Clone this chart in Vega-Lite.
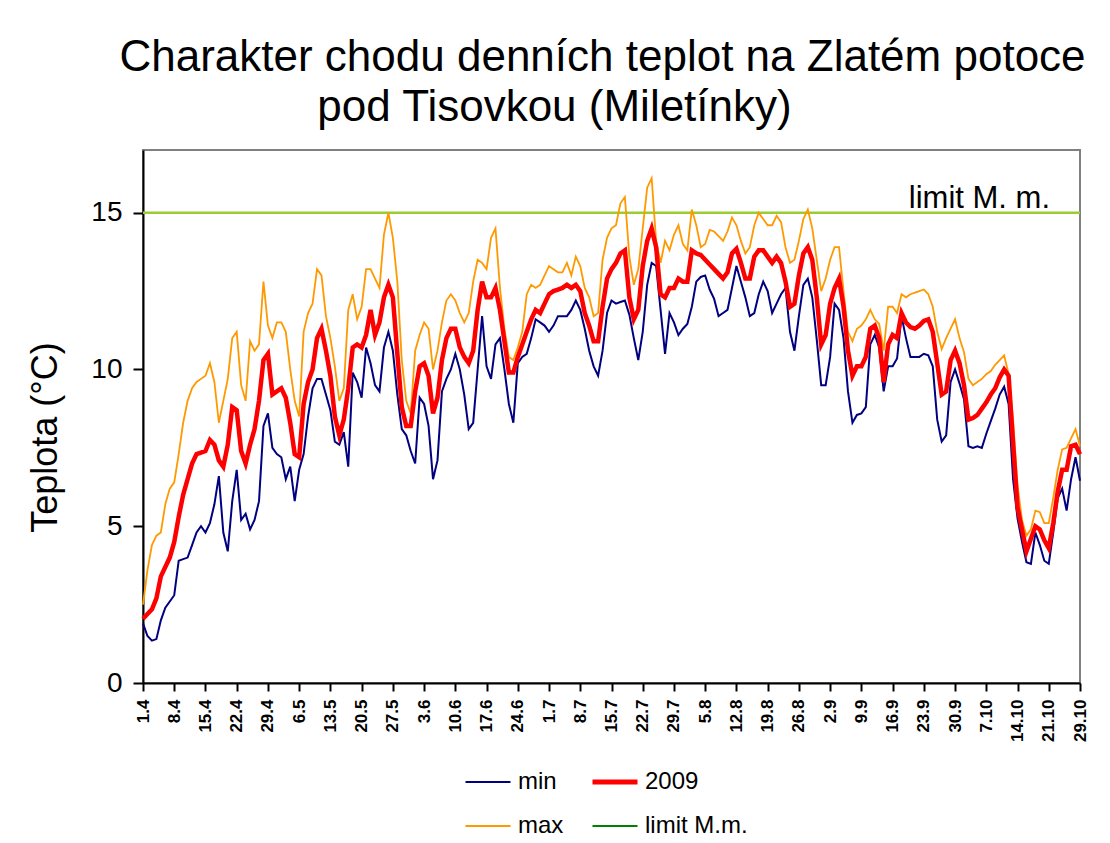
{
  "$schema": "https://vega.github.io/schema/vega-lite/v6.json",
  "autosize": {"type": "none"},
  "width": 937,
  "height": 533,
  "padding": {"left": 143, "top": 150, "right": 30, "bottom": 160},
  "background": "white",
  "config": {"font": "Liberation Sans", "view": {"stroke": "#808080", "strokeWidth": 2}},
  "title": {
    "text": ["Charakter chodu denních teplot na Zlatém potoce", "pod Tisovkou (Miletínky)\u2800\u2800\u2800"],
    "fontSize": 44, "fontWeight": "normal", "color": "black", "anchor": "middle", "frame": "group",
    "dx": -9, "offset": 20, "lineHeight": 50
  },
  "data": {"values": [
    {"d":"1.4","min":1.9,"mean":2.05,"max":2.5},{"d":"2.4","min":1.5,"mean":2.2,"max":3.6},{"d":"3.4","min":1.35,"mean":2.35,"max":4.4},{"d":"4.4","min":1.4,"mean":2.7,"max":4.7},{"d":"5.4","min":2.0,"mean":3.4,"max":4.8},{"d":"6.4","min":2.4,"mean":3.7,"max":5.7},{"d":"7.4","min":2.6,"mean":4.0,"max":6.2},{"d":"8.4","min":2.8,"mean":4.5,"max":6.4},{"d":"9.4","min":3.9,"mean":5.3,"max":7.3},{"d":"10.4","min":3.95,"mean":6.0,"max":8.3},
    {"d":"11.4","min":4.0,"mean":6.5,"max":9.0},{"d":"12.4","min":4.4,"mean":7.0,"max":9.4},{"d":"13.4","min":4.8,"mean":7.3,"max":9.6},{"d":"14.4","min":5.0,"mean":7.35,"max":9.7},{"d":"15.4","min":4.8,"mean":7.4,"max":9.8},{"d":"16.4","min":5.1,"mean":7.75,"max":10.2},{"d":"17.4","min":5.7,"mean":7.6,"max":9.6},{"d":"18.4","min":6.6,"mean":7.1,"max":8.3},{"d":"19.4","min":4.8,"mean":6.9,"max":9.0},{"d":"20.4","min":4.2,"mean":7.6,"max":9.7},
    {"d":"21.4","min":5.8,"mean":8.8,"max":11.0},{"d":"22.4","min":6.8,"mean":8.7,"max":11.2},{"d":"23.4","min":5.2,"mean":7.4,"max":9.5},{"d":"24.4","min":5.4,"mean":7.0,"max":9.0},{"d":"25.4","min":4.9,"mean":7.6,"max":10.9},{"d":"26.4","min":5.2,"mean":8.1,"max":10.6},{"d":"27.4","min":5.8,"mean":9.0,"max":10.8},{"d":"28.4","min":8.2,"mean":10.3,"max":12.8},{"d":"29.4","min":8.6,"mean":10.5,"max":11.4},{"d":"30.4","min":7.5,"mean":9.2,"max":11.0},
    {"d":"1.5","min":7.3,"mean":9.3,"max":11.5},{"d":"2.5","min":7.2,"mean":9.4,"max":11.5},{"d":"3.5","min":6.5,"mean":9.1,"max":11.2},{"d":"4.5","min":6.9,"mean":8.3,"max":10.0},{"d":"5.5","min":5.8,"mean":7.3,"max":9.0},{"d":"6.5","min":6.8,"mean":7.2,"max":8.5},{"d":"7.5","min":7.3,"mean":8.9,"max":11.2},{"d":"8.5","min":8.5,"mean":9.6,"max":11.8},{"d":"9.5","min":9.4,"mean":10.0,"max":12.1},{"d":"10.5","min":9.7,"mean":11.0,"max":13.2},
    {"d":"11.5","min":9.7,"mean":11.3,"max":13.0},{"d":"12.5","min":9.2,"mean":10.6,"max":11.7},{"d":"13.5","min":8.7,"mean":9.8,"max":11.0},{"d":"14.5","min":7.7,"mean":8.5,"max":10.1},{"d":"15.5","min":7.6,"mean":7.9,"max":9.0},{"d":"16.5","min":8.0,"mean":8.4,"max":9.4},{"d":"17.5","min":6.9,"mean":9.4,"max":11.9},{"d":"18.5","min":9.9,"mean":10.7,"max":12.4},{"d":"19.5","min":9.6,"mean":10.8,"max":11.6},{"d":"20.5","min":9.1,"mean":10.7,"max":12.0},
    {"d":"21.5","min":10.7,"mean":11.1,"max":13.2},{"d":"22.5","min":10.2,"mean":11.9,"max":13.2},{"d":"23.5","min":9.5,"mean":11.1,"max":12.9},{"d":"24.5","min":9.3,"mean":11.5,"max":12.6},{"d":"25.5","min":10.7,"mean":12.3,"max":14.3},{"d":"26.5","min":11.2,"mean":12.7,"max":15.0},{"d":"27.5","min":10.6,"mean":12.3,"max":14.2},{"d":"28.5","min":9.2,"mean":10.5,"max":12.8},{"d":"29.5","min":8.1,"mean":8.8,"max":10.3},{"d":"30.5","min":7.9,"mean":8.2,"max":9.0},
    {"d":"31.5","min":7.4,"mean":8.2,"max":8.6},{"d":"1.6","min":7.0,"mean":9.3,"max":10.6},{"d":"2.6","min":9.1,"mean":10.1,"max":11.1},{"d":"3.6","min":8.9,"mean":10.2,"max":11.5},{"d":"4.6","min":8.2,"mean":9.8,"max":11.3},{"d":"5.6","min":6.5,"mean":8.6,"max":10.0},{"d":"6.6","min":7.1,"mean":9.1,"max":10.6},{"d":"7.6","min":9.3,"mean":10.3,"max":11.5},{"d":"8.6","min":9.7,"mean":11.0,"max":12.2},{"d":"9.6","min":10.0,"mean":11.3,"max":12.4},
    {"d":"10.6","min":10.5,"mean":11.3,"max":12.2},{"d":"11.6","min":10.0,"mean":10.7,"max":11.8},{"d":"12.6","min":9.2,"mean":10.4,"max":11.5},{"d":"13.6","min":8.1,"mean":10.2,"max":11.8},{"d":"14.6","min":8.3,"mean":10.6,"max":12.8},{"d":"15.6","min":10.0,"mean":11.9,"max":13.5},{"d":"16.6","min":11.7,"mean":12.8,"max":13.4},{"d":"17.6","min":10.1,"mean":12.3,"max":13.2},{"d":"18.6","min":9.7,"mean":12.3,"max":14.2},{"d":"19.6","min":10.8,"mean":12.6,"max":14.5},
    {"d":"20.6","min":11.0,"mean":11.9,"max":12.6},{"d":"21.6","min":10.0,"mean":10.9,"max":11.3},{"d":"22.6","min":8.9,"mean":9.9,"max":10.4},{"d":"23.6","min":8.3,"mean":9.9,"max":10.3},{"d":"24.6","min":10.2,"mean":10.4,"max":10.7},{"d":"25.6","min":10.4,"mean":10.8,"max":11.2},{"d":"26.6","min":10.5,"mean":11.2,"max":12.4},{"d":"27.6","min":11.0,"mean":11.6,"max":12.7},{"d":"28.6","min":11.6,"mean":11.9,"max":12.6},{"d":"29.6","min":11.5,"mean":11.8,"max":12.7},
    {"d":"30.6","min":11.4,"mean":12.1,"max":13.0},{"d":"1.7","min":11.2,"mean":12.4,"max":13.3},{"d":"2.7","min":11.4,"mean":12.5,"max":13.2},{"d":"3.7","min":11.7,"mean":12.55,"max":13.1},{"d":"4.7","min":11.7,"mean":12.6,"max":13.1},{"d":"5.7","min":11.7,"mean":12.7,"max":13.4},{"d":"6.7","min":11.9,"mean":12.6,"max":13.0},{"d":"7.7","min":12.2,"mean":12.7,"max":13.6},{"d":"8.7","min":11.9,"mean":12.5,"max":13.3},{"d":"9.7","min":11.3,"mean":11.8,"max":12.6},
    {"d":"10.7","min":10.6,"mean":11.4,"max":12.3},{"d":"11.7","min":10.1,"mean":10.9,"max":11.7},{"d":"12.7","min":9.8,"mean":10.9,"max":11.8},{"d":"13.7","min":10.6,"mean":12.0,"max":13.5},{"d":"14.7","min":11.8,"mean":12.9,"max":14.2},{"d":"15.7","min":12.2,"mean":13.2,"max":14.5},{"d":"16.7","min":12.1,"mean":13.4,"max":14.6},{"d":"17.7","min":12.15,"mean":13.7,"max":15.3},{"d":"18.7","min":12.2,"mean":13.8,"max":15.5},{"d":"19.7","min":11.75,"mean":12.3,"max":13.6},
    {"d":"20.7","min":11.0,"mean":11.6,"max":12.7},{"d":"21.7","min":10.3,"mean":11.9,"max":13.2},{"d":"22.7","min":11.2,"mean":13.3,"max":14.5},{"d":"23.7","min":12.7,"mean":14.1,"max":15.8},{"d":"24.7","min":13.4,"mean":14.5,"max":16.1},{"d":"25.7","min":13.3,"mean":13.9,"max":14.1},{"d":"26.7","min":11.9,"mean":12.4,"max":13.4},{"d":"27.7","min":10.5,"mean":12.3,"max":14.1},{"d":"28.7","min":11.8,"mean":12.6,"max":13.8},{"d":"29.7","min":11.5,"mean":12.6,"max":14.3},
    {"d":"30.7","min":11.1,"mean":12.9,"max":14.6},{"d":"31.7","min":11.3,"mean":12.8,"max":14.0},{"d":"1.8","min":11.45,"mean":12.8,"max":13.8},{"d":"2.8","min":12.0,"mean":13.8,"max":15.1},{"d":"3.8","min":12.8,"mean":13.7,"max":14.6},{"d":"4.8","min":12.95,"mean":13.65,"max":13.9},{"d":"5.8","min":13.0,"mean":13.5,"max":14.0},{"d":"6.8","min":12.55,"mean":13.35,"max":14.45},{"d":"7.8","min":12.25,"mean":13.2,"max":14.4},{"d":"8.8","min":11.7,"mean":13.05,"max":14.25},
    {"d":"9.8","min":11.8,"mean":12.9,"max":14.1},{"d":"10.8","min":11.9,"mean":13.1,"max":14.4},{"d":"11.8","min":12.6,"mean":13.7,"max":14.85},{"d":"12.8","min":13.3,"mean":13.85,"max":14.6},{"d":"13.8","min":12.8,"mean":13.4,"max":14.1},{"d":"14.8","min":12.3,"mean":12.9,"max":13.7},{"d":"15.8","min":11.7,"mean":12.9,"max":13.9},{"d":"16.8","min":11.8,"mean":13.6,"max":14.6},{"d":"17.8","min":12.4,"mean":13.8,"max":15.0},{"d":"18.8","min":12.8,"mean":13.8,"max":14.8},
    {"d":"19.8","min":12.5,"mean":13.6,"max":14.6},{"d":"20.8","min":11.8,"mean":13.4,"max":14.6},{"d":"21.8","min":12.1,"mean":13.6,"max":14.9},{"d":"22.8","min":12.4,"mean":13.4,"max":14.7},{"d":"23.8","min":12.6,"mean":12.8,"max":13.9},{"d":"24.8","min":11.2,"mean":12.0,"max":13.4},{"d":"25.8","min":10.6,"mean":12.1,"max":13.5},{"d":"26.8","min":11.7,"mean":13.0,"max":14.1},{"d":"27.8","min":12.7,"mean":13.7,"max":14.8},{"d":"28.8","min":12.9,"mean":13.9,"max":15.1},
    {"d":"29.8","min":12.3,"mean":13.5,"max":14.5},{"d":"30.8","min":10.95,"mean":12.3,"max":13.5},{"d":"31.8","min":9.5,"mean":10.8,"max":12.5},{"d":"1.9","min":9.5,"mean":11.1,"max":12.9},{"d":"2.9","min":10.4,"mean":12.1,"max":13.5},{"d":"3.9","min":12.1,"mean":12.6,"max":13.9},{"d":"4.9","min":11.9,"mean":12.9,"max":13.9},{"d":"5.9","min":11.0,"mean":12.0,"max":12.5},{"d":"6.9","min":9.3,"mean":10.6,"max":11.2},{"d":"7.9","min":8.3,"mean":9.8,"max":10.9},
    {"d":"8.9","min":8.55,"mean":10.1,"max":11.3},{"d":"9.9","min":8.6,"mean":10.1,"max":11.4},{"d":"10.9","min":8.8,"mean":10.4,"max":11.6},{"d":"11.9","min":10.8,"mean":11.3,"max":11.9},{"d":"12.9","min":11.1,"mean":11.4,"max":11.6},{"d":"13.9","min":10.7,"mean":11.0,"max":11.45},{"d":"14.9","min":9.3,"mean":9.6,"max":10.6},{"d":"15.9","min":10.1,"mean":10.8,"max":12.0},{"d":"16.9","min":10.1,"mean":11.1,"max":12.0},{"d":"17.9","min":10.35,"mean":11.0,"max":11.8},
    {"d":"18.9","min":11.7,"mean":11.8,"max":12.4},{"d":"19.9","min":11.0,"mean":11.5,"max":12.3},{"d":"20.9","min":10.4,"mean":11.35,"max":12.4},{"d":"21.9","min":10.4,"mean":11.3,"max":12.45},{"d":"22.9","min":10.4,"mean":11.4,"max":12.5},{"d":"23.9","min":10.5,"mean":11.55,"max":12.55},{"d":"24.9","min":10.45,"mean":11.6,"max":12.4},{"d":"25.9","min":10.1,"mean":11.2,"max":12.0},{"d":"26.9","min":8.4,"mean":10.2,"max":11.2},{"d":"27.9","min":7.7,"mean":9.2,"max":10.65},
    {"d":"28.9","min":7.9,"mean":9.3,"max":11.0},{"d":"29.9","min":9.6,"mean":10.3,"max":11.3},{"d":"30.9","min":10.0,"mean":10.6,"max":11.6},{"d":"1.10","min":9.55,"mean":10.2,"max":11.0},{"d":"2.10","min":9.05,"mean":9.5,"max":10.55},{"d":"3.10","min":7.55,"mean":8.4,"max":9.7},{"d":"4.10","min":7.5,"mean":8.45,"max":9.5},{"d":"5.10","min":7.55,"mean":8.55,"max":9.6},{"d":"6.10","min":7.5,"mean":8.75,"max":9.7},{"d":"7.10","min":7.95,"mean":8.95,"max":9.85},
    {"d":"8.10","min":8.35,"mean":9.2,"max":9.95},{"d":"9.10","min":8.75,"mean":9.4,"max":10.15},{"d":"10.10","min":9.2,"mean":9.75,"max":10.3},{"d":"11.10","min":9.45,"mean":10.0,"max":10.45},{"d":"12.10","min":8.9,"mean":9.8,"max":9.85},{"d":"13.10","min":6.5,"mean":7.65,"max":8.4},{"d":"14.10","min":5.25,"mean":5.6,"max":6.3},{"d":"15.10","min":4.5,"mean":4.9,"max":5.2},{"d":"16.10","min":3.85,"mean":4.2,"max":4.7},{"d":"17.10","min":3.8,"mean":4.6,"max":4.9},
    {"d":"18.10","min":4.8,"mean":5.0,"max":5.5},{"d":"19.10","min":4.4,"mean":4.9,"max":5.45},{"d":"20.10","min":3.9,"mean":4.55,"max":5.1},{"d":"21.10","min":3.8,"mean":4.3,"max":5.1},{"d":"22.10","min":4.8,"mean":5.1,"max":5.9},{"d":"23.10","min":5.9,"mean":6.1,"max":6.8},{"d":"24.10","min":6.2,"mean":6.8,"max":7.45},{"d":"26.10","min":5.5,"mean":6.8,"max":7.5},{"d":"27.10","min":6.5,"mean":7.55,"max":7.8},{"d":"28.10","min":7.2,"mean":7.6,"max":8.1},
    {"d":"29.10","min":6.45,"mean":7.3,"max":7.55}
  ]},
  "layer": [
    {
      "data": {"values": [{"limit": 15}]},
      "mark": {"type": "rule", "color": "#9acd32", "strokeWidth": 2.5},
      "encoding": {
        "y": {"field": "limit", "type": "quantitative", "scale": {"domain": [0, 17], "nice": false}}
      }
    },
    {
      "mark": {"type": "line", "strokeWidth": 2},
      "encoding": {
        "x": {"field": "d", "type": "nominal", "sort": null, "scale": {"type": "point", "padding": 0},
          "axis": {"title": null, "values": ["1.4","8.4","15.4","22.4","29.4","6.5","13.5","20.5","27.5","3.6","10.6","17.6","24.6","1.7","8.7","15.7","22.7","29.7","5.8","12.8","19.8","26.8","2.9","9.9","16.9","23.9","30.9","7.10","14.10","21.10","29.10"],
            "labelAngle": 270, "labelFontSize": 17, "labelFontWeight": "bold", "labelColor": "black", "labelPadding": 8,
            "tickSize": 8, "tickWidth": 2, "tickColor": "black", "domainColor": "black", "domainWidth": 2, "grid": false}},
        "y": {"field": "min", "type": "quantitative", "scale": {"domain": [0, 17], "nice": false},
          "axis": {"title": "Teplota (°C)", "values": [0, 5, 10, 15], "grid": false, "labelFontSize": 28, "labelColor": "black", "labelPadding": 11,
            "tickSize": 10, "tickWidth": 2, "tickColor": "black", "domainColor": "black", "domainWidth": 2,
            "titleFontSize": 36, "titleFontWeight": "normal", "titleColor": "black", "titleAngle": 270, "titleX": -98, "titleY": 287, "titleAlign": "center", "titleBaseline": "middle"}},
        "color": {"datum": "min", "type": "nominal",
          "scale": {"domain": ["min", "2009", "max", "limit M.m."], "range": ["#000080", "#ff0000", "#ff9900", "#008000"]},
          "legend": {"orient": "none", "legendX": 333, "legendY": 620, "title": null, "columns": 2, "direction": "horizontal",
            "symbolType": "stroke", "symbolSize": 2025, "symbolStrokeWidth": 2, "labelFontSize": 24, "labelColor": "black",
            "labelOffset": 18, "columnPadding": 18, "rowPadding": 20,
            "encode": {"symbols": {"update": {"strokeWidth": {"signal": "datum.value === '2009' ? 5 : 2"}}}}}}
      }
    },
    {
      "mark": {"type": "line", "strokeWidth": 1.8},
      "encoding": {
        "x": {"field": "d", "type": "nominal", "sort": null},
        "y": {"field": "max", "type": "quantitative"},
        "color": {"datum": "max", "type": "nominal"}
      }
    },
    {
      "mark": {"type": "line", "strokeWidth": 4.5},
      "encoding": {
        "x": {"field": "d", "type": "nominal", "sort": null},
        "y": {"field": "mean", "type": "quantitative"},
        "color": {"datum": "2009", "type": "nominal"}
      }
    },
    {
      "data": {"values": [{"d": "29.10", "limit": 15, "label": "limit M. m."}]},
      "mark": {"type": "text", "align": "right", "baseline": "alphabetic", "dx": -30, "dy": -5, "fontSize": 31, "color": "black"},
      "encoding": {
        "x": {"field": "d", "type": "nominal", "sort": null},
        "y": {"field": "limit", "type": "quantitative"},
        "text": {"field": "label"}
      }
    }
  ]
}
